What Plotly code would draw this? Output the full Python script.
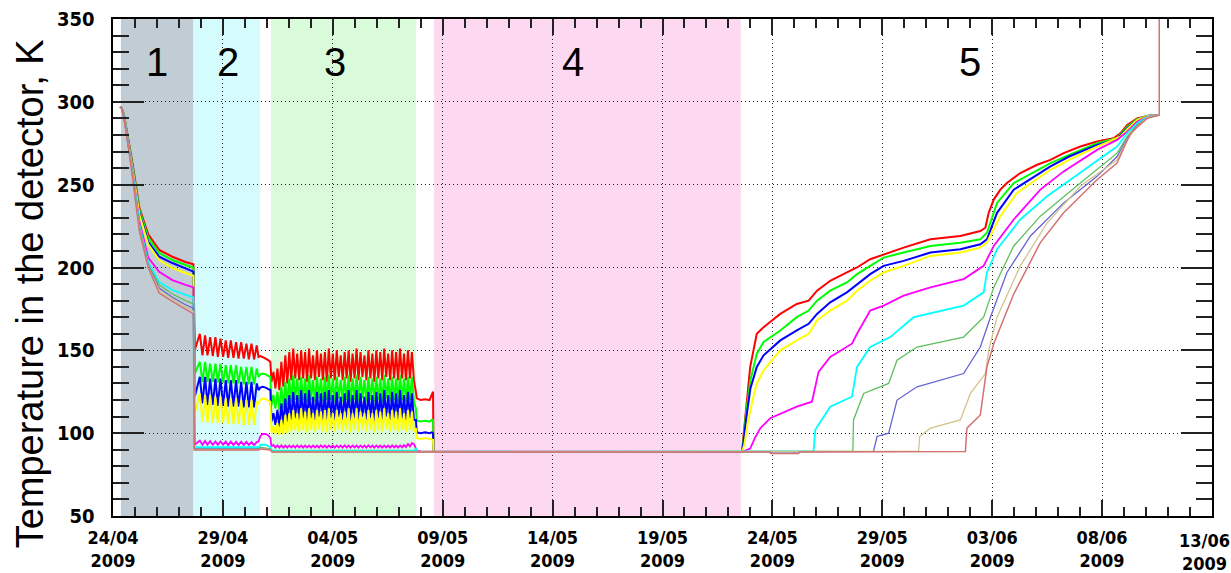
import pandas as pd
import plotly.graph_objects as go

START = pd.Timestamp("2009-04-24")
END = pd.Timestamp("2009-06-13")

# ---------------- shaded phases (days since 24/04/2009) ----------------
band_start = [0.36, 3.66, 7.19, 14.61]
band_end = [3.66, 6.69, 13.79, 28.56]
band_colors = ["#c1ccd5", "#d5fcfd", "#d9fbd9", "#fcd9f1"]
phase_labels = ["1", "2", "3", "4", "5"]
phase_label_days = [2.0, 5.23, 10.1, 20.94, 39.0]
phase_label_temp = [324, 324, 324, 324, 324]

# ---------------- phase 1 : cool-down ----------------
r1_days = [0.33, 0.40, 0.5, 0.7, 0.9, 1.2, 1.6, 2.1, 2.7, 3.3, 3.66]
red_r1 = [297, 296, 292, 277, 262, 236, 220, 210.6, 206.5, 203.3, 202]
green_r1 = [297, 296, 292, 276.5, 261, 235, 218, 208.8, 204.5, 201.5, 200]
blue_r1 = [297, 296, 291.5, 276, 260, 233, 215.5, 206.5, 202.7, 199.5, 197.5]
yellow_r1 = [297, 296, 291.5, 275.5, 259, 232, 214, 204.5, 199.7, 196.7, 195]
magenta_r1 = [297, 296, 291, 275, 257, 228, 206, 197.4, 192.4, 189.5, 188]
cyan_r1 = [297, 296, 291, 274.5, 256, 226, 203, 191.3, 186.4, 183.5, 182]
green2_r1 = [297, 296, 290.5, 274, 255, 225, 202, 189.5, 184, 180, 178]
blue2_r1 = [297, 296, 290.5, 274, 254, 224, 201, 187.6, 182, 177.5, 175.5]
khaki_r1 = [297, 296, 290, 273.5, 254, 223, 200.5, 186.4, 181, 176, 173.5]
brown_r1 = [297, 296, 290, 273, 253, 222, 200, 184.6, 179.5, 174.5, 172]

# ---------------- phase 2 : oscillations ----------------
osc2_days = [3.72, 3.95, 4.07, 4.19, 4.30, 4.42, 4.54, 4.66, 4.77, 4.89,
             5.01, 5.13, 5.24, 5.36, 5.48, 5.60, 5.71, 5.83, 5.95, 6.07,
             6.18, 6.30, 6.42, 6.54, 6.62]
red_r2 = [150, 160, 147, 159, 147, 158, 146.5, 158, 146, 157,
          146, 156, 145.5, 156, 145.5, 155, 145, 155, 145, 154,
          144.5, 154, 144.5, 153, 146]
green_r2 = [136, 143, 131, 143, 131, 142, 131, 142, 130.5, 142,
            130.5, 141, 130, 141, 130, 141, 130, 140, 129.5, 140,
            129.5, 140, 129.5, 139, 134]
blue_r2 = [122, 134, 118, 134, 117, 133, 117, 133, 116.5, 133,
           116.5, 132, 116, 132, 116, 132, 116, 131, 115.5, 131,
           115.5, 131, 115.5, 130, 126]
yellow_r2 = [112, 124, 107, 123, 106.5, 123, 106, 122, 106, 122,
             106, 121, 105.5, 121, 105.5, 121, 105.5, 120, 105, 120,
             105, 120, 105, 119, 118]
magenta_r2 = [93, 95.5, 93, 95.3, 93, 95.2, 93, 95, 93, 95,
              93, 95, 92.8, 95, 92.8, 94.8, 92.8, 94.8, 92.8, 94.8,
              92.8, 94.6, 92.8, 94.6, 95]

# ---------------- gap between phases 2 and 3 ----------------
gap_days = [6.70, 6.80, 6.95, 7.08, 7.16]
red_gap = [146.5, 146, 145, 144, 143]
green_gap = [135.5, 136, 135.5, 134.5, 134]
blue_gap = [127.5, 128, 127.5, 126.5, 126]
yellow_gap = [120, 121, 120.5, 119.5, 119]
magenta_gap = [98, 99.5, 99.5, 98.5, 97]

# ---------------- phase 3 : oscillations ----------------
osc3_days = [7.21, 7.30, 7.39, 7.48, 7.57, 7.66, 7.75, 7.84, 7.93, 8.02,
             8.11, 8.20, 8.29, 8.38, 8.47, 8.56, 8.65, 8.74, 8.83, 8.92,
             9.01, 9.10, 9.19, 9.28, 9.37, 9.46, 9.55, 9.64, 9.73, 9.82,
             9.91, 10.00, 10.09, 10.18, 10.27, 10.36, 10.45, 10.54, 10.63, 10.72,
             10.81, 10.90, 10.99, 11.08, 11.17, 11.26, 11.35, 11.44, 11.53, 11.62,
             11.71, 11.80, 11.89, 11.98, 12.07, 12.16, 12.25, 12.34, 12.43, 12.52,
             12.61, 12.70, 12.79, 12.88, 12.97, 13.06, 13.15, 13.24, 13.33, 13.42,
             13.51, 13.60, 13.69]
red_r3 = [131, 137, 127, 139, 126, 143, 128, 147, 130, 149,
          132, 151, 133, 148, 132, 150, 133, 149, 131, 151,
          133, 147, 132, 150, 134, 148, 132, 149, 131, 151,
          133, 148, 132, 150, 134, 147, 132, 149, 133, 150,
          131, 148, 133, 151, 132, 149, 134, 147, 132, 150,
          133, 148, 131, 150, 133, 149, 132, 151, 134, 148,
          132, 150, 133, 149, 132, 151, 133, 148, 132, 150,
          133, 149, 132]
green_r3 = [117, 123, 115, 125, 114, 128, 115, 131, 117, 133,
            119, 135, 120, 133, 119, 134, 120, 133, 119, 135,
            120, 132, 119, 134, 121, 133, 119, 134, 120, 135,
            120, 133, 119, 134, 121, 132, 119, 134, 120, 135,
            119, 133, 120, 135, 119, 134, 121, 132, 119, 134,
            120, 133, 119, 134, 120, 133, 119, 135, 121, 133,
            119, 134, 120, 133, 119, 135, 120, 133, 119, 134,
            120, 134, 119]
blue_r3 = [107, 112, 105, 114, 104, 118, 105, 121, 107, 123,
           108, 125, 109, 123, 108, 126, 109, 124, 107, 126,
           109, 122, 108, 125, 110, 124, 108, 125, 107, 126,
           109, 123, 108, 125, 110, 122, 108, 124, 109, 126,
           107, 123, 109, 126, 108, 124, 110, 122, 108, 125,
           109, 123, 107, 125, 109, 124, 108, 126, 110, 123,
           108, 125, 109, 124, 108, 126, 109, 123, 108, 125,
           109, 124, 108]
yellow_r3 = [100.5, 104, 99.5, 106, 99, 108, 99.5, 111, 100, 112,
             101, 114, 102, 112, 101, 115, 102, 113, 100.5, 115,
             102, 112, 101, 114, 102.5, 113, 101, 114, 100.5, 115,
             102, 112, 101, 114, 102.5, 112, 101, 113, 102, 115,
             100.5, 112, 102, 115, 101, 113, 102.5, 112, 101, 114,
             102, 112, 100.5, 114, 102, 113, 101, 115, 102.5, 112,
             101, 114, 102, 113, 101, 115, 102, 112, 101, 114,
             102, 113, 101]
magenta_r3 = [92, 93, 91.3, 92.6, 91.3, 92.6, 91.3, 92.5, 91.3, 92.6,
              91.4, 92.5, 91.3, 92.7, 91.4, 92.5, 91.3, 92.6, 91.4, 92.5,
              91.3, 92.6, 91.4, 92.5, 91.3, 92.7, 91.4, 92.5, 91.3, 92.6,
              91.4, 92.5, 91.3, 92.6, 91.4, 92.5, 91.3, 92.7, 91.4, 92.5,
              91.3, 92.6, 91.4, 92.5, 91.3, 92.6, 91.4, 92.5, 91.3, 92.7,
              91.4, 92.5, 91.3, 92.6, 91.4, 92.5, 91.3, 92.6, 91.4, 92.5,
              91.3, 92.7, 91.4, 92.5, 91.3, 92.6, 91.4, 92.8, 91.6, 93.5,
              92, 94, 93.5]

# ---------------- after phase 3 ----------------
post_days = [13.78, 13.82, 14.0, 14.2, 14.4, 14.5, 14.56, 14.58]
red_post = [125, 121, 120, 120.5, 120, 124, 125, 88.7]
green_post = [115, 107.5, 107, 107.5, 107, 108, 108, 88.7]
blue_post = [108, 100.5, 100, 100.5, 100, 100.5, 100, 88.7]
yellow_post = [103, 97, 96.5, 97, 96.5, 96.5, 96, 88.7]
magenta_post = [91, 89.5, 89, 89, 89, 89, 89, 88.7]

# lower channels during phases 2-4 (nearly flat)
cyan_mid_days = [3.70, 6.62, 6.72, 6.95, 7.15, 7.24, 13.72, 13.78, 13.86, 28.6]
cyan_mid = [91.5, 91.5, 93, 93, 91.5, 89.5, 89.5, 91, 88.7, 88.7]
mid_days = [3.70, 6.62, 6.72, 7.15, 7.24, 13.72, 13.86, 28.6]
green2_mid = [90.5, 90.5, 91.5, 90.5, 89, 89, 88.7, 88.7]
blue2_mid = [90.3, 90.3, 91, 90, 88.8, 88.8, 88.7, 88.7]
khaki_mid = [90, 90, 90.8, 90, 88.7, 88.7, 88.7, 88.7]
brown_mid = [89.8, 89.8, 90.5, 89.8, 88.6, 88.6, 88.7, 88.7]

# ---------------- phase 5 : warm-up ----------------
red_r5_days = [28.62, 28.66, 28.76, 28.99, 29.29, 29.6, 29.98, 30.36, 31.11, 31.65,
               32.03, 32.63, 33.39, 33.85, 34.45, 35.06, 35.97, 37.19, 38.55, 39.46,
               39.69, 39.84, 40.07, 40.37, 40.67, 41.28, 42.04, 42.65, 43.25, 44.01,
               44.77, 45.53, 45.83, 46.14, 46.59, 47.05, 47.52]
red_r5 = [88.7, 95, 110, 140, 160, 164, 168, 172, 178, 180,
          186, 192, 197, 200, 205, 208, 212, 217, 219, 222,
          224, 233, 241, 247, 251, 257, 262, 265, 269, 273,
          276, 278, 281, 286, 290, 291.5, 292]
gb_r5_days = [28.62, 28.68, 28.8, 29.0, 29.29, 29.6, 30.36, 31.11, 31.65, 32.03,
              32.63, 33.39, 33.85, 34.45, 35.06, 35.97, 37.19, 38.55, 39.46, 39.76,
              40.22, 40.98, 42.65, 43.5, 44.77, 45.68, 46.14, 46.59, 47.05, 47.52]
green_r5 = [88.7, 95, 112, 132, 148, 155, 162, 170, 174, 180,
            186, 191, 196, 201, 206, 209, 213, 215, 217, 221,
            239, 251, 263, 268, 275, 278, 285, 289.5, 291.5, 292]
blue_r5 = [88.7, 94, 108, 127, 140, 147, 156, 162, 166, 172,
           179, 185, 190, 196, 201, 204, 209, 211, 214, 217,
           233, 247, 261, 267, 274, 277.5, 284, 289, 291.5, 292]
yellow_r5_days = [28.62, 28.72, 28.9, 29.1, 29.29, 29.6, 30.36, 31.11, 31.65, 32.03,
                  32.63, 33.39, 33.85, 34.45, 35.06, 35.97, 37.19, 38.55, 39.46, 39.76,
                  40.37, 41.13, 42.65, 43.5, 44.77, 45.83, 46.14, 46.59, 47.05, 47.52]
yellow_r5 = [88.7, 93, 108, 120, 130, 138, 150, 156, 160, 168,
             174, 180, 186, 192, 197, 201, 207, 209, 212, 215,
             231, 245, 259, 265, 273, 279, 283.5, 289, 291.5, 292]
magenta_r5_days = [28.62, 28.99, 29.2, 29.45, 29.9, 31.11, 31.8, 32.10, 32.63, 33.62,
                   33.85, 34.45, 35.06, 35.97, 37.19, 38.7, 39.61, 40.07, 40.98, 42.19,
                   43.25, 44.77, 45.68, 46.14, 46.59, 47.05, 47.52]
magenta_r5 = [88.7, 90.7, 97, 103, 109, 116, 119, 137, 146, 154,
              160, 174, 177, 183, 188, 193, 201, 213, 229, 247,
              258, 271, 277, 282, 288, 291, 292]
cyan_r5_days = [31.87, 31.95, 32.63, 33.62, 33.85, 34.45, 35.36, 36.43, 38.7, 39.61,
                39.76, 40.22, 41.28, 42.5, 44.01, 45.68, 46.14, 46.59, 47.05, 47.52]
cyan_r5 = [89, 102, 116, 122, 140, 152, 158, 170, 177, 185,
           197, 211, 229, 243, 257, 273, 281, 287, 291, 292]
green2_r5_days = [33.66, 33.69, 34.15, 35.29, 35.67, 36.58, 38.7, 39.61, 40.07, 40.98,
                  42.19, 44.01, 45.68, 46.14, 46.59, 47.05, 47.52]
green2_r5 = [89, 108, 124, 130, 144, 152, 158, 170, 188, 213,
             231, 251, 269, 279, 286, 290.5, 292]
blue2_r5_days = [29.95, 29.97, 31.0, 31.02, 34.6, 34.76, 35.29, 35.67, 36.58, 38.7,
                 39.46, 39.92, 40.67, 41.74, 43.25, 44.77, 45.68, 46.14, 46.59, 47.05,
                 47.52]
blue2_r5 = [88.7, 87.9, 87.9, 88.7, 89, 98, 100, 120, 128, 136,
            152, 170, 197, 219, 239, 255, 267, 278, 285.5, 290.5,
            292]
khaki_r5_days = [36.65, 36.7, 37.19, 38.55, 39.01, 39.69, 39.84, 40.22, 41.28, 42.5,
                 44.01, 45.68, 46.14, 46.59, 47.05, 47.52]
khaki_r5 = [89, 98, 103, 108, 124, 136, 150, 170, 201, 227,
            249, 265, 277, 285, 290.5, 292]
brown_r5_days = [29.9, 29.92, 31.2, 31.22, 38.78, 38.85, 39.46, 39.76, 40.07, 40.98,
                 42.19, 43.25, 44.77, 45.68, 46.29, 47.05, 47.6, 47.6]
brown_r5 = [88.7, 87.8, 87.8, 88.7, 89, 103, 111, 140, 154, 184,
            215, 233, 253, 263, 281, 290, 292, 360]

series_names = ["ch1", "ch2", "ch3", "ch4", "ch5", "ch6", "ch7", "ch8", "ch9", "ch10"]
series_colors = ["#ff0000", "#00ff00", "#0000ff", "#ffff00", "#ff00ff", "#00ffff",
                 "#5fbf5f", "#6464d2", "#d2c38c", "#d27272"]
series_widths = [2, 2, 2, 2, 1.8, 1.8, 1.3, 1.3, 1.3, 1.5]


def seg(*pairs):
    xs, ys = [], []
    for d, v in pairs:
        if len(d) != len(v):
            raise ValueError(f"length mismatch {len(d)} vs {len(v)}")
        xs += list(d)
        ys += list(v)
    return xs, ys


series_data = [
    seg((r1_days, red_r1), (osc2_days, red_r2), (gap_days, red_gap), (osc3_days, red_r3),
        (post_days, red_post), (red_r5_days, red_r5)),
    seg((r1_days, green_r1), (osc2_days, green_r2), (gap_days, green_gap), (osc3_days, green_r3),
        (post_days, green_post), (gb_r5_days, green_r5)),
    seg((r1_days, blue_r1), (osc2_days, blue_r2), (gap_days, blue_gap), (osc3_days, blue_r3),
        (post_days, blue_post), (gb_r5_days, blue_r5)),
    seg((r1_days, yellow_r1), (osc2_days, yellow_r2), (gap_days, yellow_gap), (osc3_days, yellow_r3),
        (post_days, yellow_post), (yellow_r5_days, yellow_r5)),
    seg((r1_days, magenta_r1), (osc2_days, magenta_r2), (gap_days, magenta_gap), (osc3_days, magenta_r3),
        (post_days, magenta_post), (magenta_r5_days, magenta_r5)),
    seg((r1_days, cyan_r1), (cyan_mid_days, cyan_mid), (cyan_r5_days, cyan_r5)),
    seg((r1_days, green2_r1), (mid_days, green2_mid), (green2_r5_days, green2_r5)),
    seg((r1_days, blue2_r1), (mid_days, blue2_mid), (blue2_r5_days, blue2_r5)),
    seg((r1_days, khaki_r1), (mid_days, khaki_mid), (khaki_r5_days, khaki_r5)),
    seg((r1_days, brown_r1), (mid_days, brown_mid), (brown_r5_days, brown_r5)),
]


def to_time(days):
    return START + pd.to_timedelta(pd.Series(days, dtype=float), unit="D")


fig = go.Figure()
for (xs, ys), name, col, w in zip(series_data, series_names, series_colors, series_widths):
    fig.add_trace(go.Scatter(x=to_time(xs), y=ys, mode="lines", name=name,
                             line=dict(color=col, width=w), showlegend=False))

for s, e, c in zip(band_start, band_end, band_colors):
    fig.add_shape(type="rect", xref="x", yref="paper",
                  x0=START + pd.to_timedelta(s, unit="D"), x1=START + pd.to_timedelta(e, unit="D"),
                  y0=0, y1=1, fillcolor=c, line=dict(width=0), layer="below")

for t, d, v in zip(phase_labels, phase_label_days, phase_label_temp):
    fig.add_annotation(x=START + pd.to_timedelta(d, unit="D"), y=v, text=t, showarrow=False,
                       font=dict(family="Liberation Sans, Arial, sans-serif", size=40, color="black"))

fig.add_annotation(xref="paper", yref="paper", x=-0.0755, y=0.446,
                   xanchor="center", yanchor="middle",
                   text="Temperature in the detector, K", textangle=-90, showarrow=False,
                   font=dict(family="Liberation Sans, Arial, sans-serif", size=38, color="black"))

xtickfont = dict(family="Liberation Sans Narrow, DejaVu Sans Condensed, Arial Narrow, Liberation Sans",
                 size=18, color="black", weight="bold")
ytickfont = dict(family="Liberation Sans Narrow, DejaVu Sans Condensed, Arial Narrow, Liberation Sans",
                 size=20, color="black", weight="bold")

# last date label sits at the right edge of the page: drawn nudged inward
fig.add_annotation(x=END, xref="x", y=0, yref="paper", yanchor="top", xanchor="right",
                   xshift=20, yshift=-12, showarrow=False, align="center",
                   text=END.strftime("%d/%m") + "<br>" + END.strftime("%Y"),
                   font=xtickfont)

fig.update_xaxes(type="date",
                 range=[START, END],
                 tick0=START, dtick=5 * 86400000, tickformat="%d/%m<br>%Y",
                 ticks="inside", ticklen=16, tickwidth=2, tickcolor="#222",
                 showline=True, linecolor="black", linewidth=2, mirror="ticks",
                 showgrid=True, gridcolor="#222", gridwidth=1, griddash="1px,3px",
                 minor=dict(dtick=86400000, ticks="inside", ticklen=9, tickwidth=2,
                            tickcolor="#222", showgrid=False),
                 tickfont=xtickfont, ticklabelstandoff=4, ticklabeloverflow="hide past div",
                 zeroline=False, automargin=False)
fig.update_yaxes(range=[50, 350], dtick=50, tick0=50,
                 ticks="inside", ticklen=31, tickwidth=2, tickcolor="#222",
                 showline=True, linecolor="black", linewidth=2, mirror="ticks",
                 showgrid=True, gridcolor="#222", gridwidth=1, griddash="1px,3px",
                 minor=dict(dtick=10, ticks="inside", ticklen=16, tickwidth=2,
                            tickcolor="#222", showgrid=False),
                 tickfont=ytickfont, ticksuffix="\u00a0\u00a0",
                 zeroline=False, automargin=False)

fig.update_layout(width=1231, height=573,
                  margin=dict(l=113, r=19, t=19, b=57),
                  plot_bgcolor="white", paper_bgcolor="white",
                  showlegend=False)

fig.write_html("out.html")
